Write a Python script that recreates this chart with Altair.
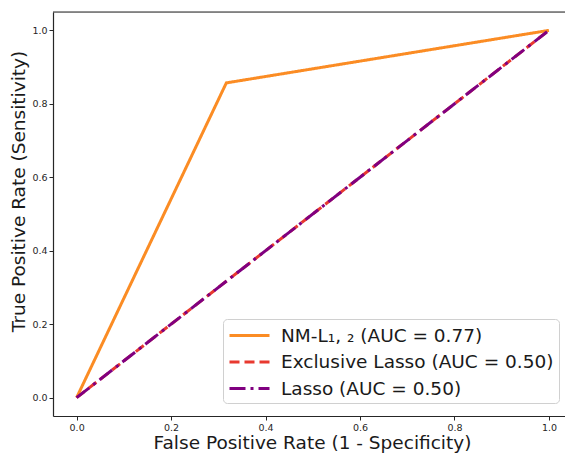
import altair as alt
import pandas as pd

# ROC curve points for each model
models = ["NM-L₁, ₂ (AUC = 0.77)", "Exclusive Lasso (AUC = 0.50)", "Lasso (AUC = 0.50)"]
fpr_nm = [0.0, 0.317, 1.0]
tpr_nm = [0.0, 0.857, 1.0]
fpr_excl = [0.0, 1.0]
tpr_excl = [0.0, 1.0]
fpr_lasso = [0.0, 1.0]
tpr_lasso = [0.0, 1.0]

colors = ["#fb8c24", "#e8392f", "#800080"]
dashes = [[1, 0], [10, 5], [16, 5, 3, 5]]

rows = []
for name, xs, ys in [(models[0], fpr_nm, tpr_nm),
                     (models[1], fpr_excl, tpr_excl),
                     (models[2], fpr_lasso, tpr_lasso)]:
    for i, (x, y) in enumerate(zip(xs, ys)):
        rows.append({"model": name, "fpr": x, "tpr": y, "step": i})
df = pd.DataFrame(rows)

x_dom = [-0.05, 1.034]
y_dom = [-0.05, 1.05]

axis_style = dict(
    grid=False,
    domainColor="#262626",
    domainWidth=1.2,
    tickColor="#262626",
    tickSize=4,
    tickWidth=1,
    labelFont="DejaVu Sans",
    labelFontSize=9.5,
    labelColor="#262626",
    titleFont="DejaVu Sans",
    titleFontSize=18.5,
    titleFontWeight="normal",
    titleColor="#1a1a1a",
    titleBaseline="alphabetic",
    format=".1f",
    values=[0.0, 0.2, 0.4, 0.6, 0.8, 1.0],
)

lines = alt.Chart(df).mark_line(strokeWidth=3, clip=True).encode(
    x=alt.X("fpr:Q", scale=alt.Scale(domain=x_dom, nice=False, zero=False),
            axis=alt.Axis(title="False Positive Rate (1 - Specificity)",
                          titleY=32.5, titleX=259, titleAlign="center", **axis_style)),
    y=alt.Y("tpr:Q", scale=alt.Scale(domain=y_dom, nice=False, zero=False),
            axis=alt.Axis(title="True Positive Rate (Sensitivity)",
                          titleX=-29, titleY=179, titleAngle=-90, titleAlign="center",
                          **axis_style)),
    color=alt.Color("model:N", sort=models,
                    scale=alt.Scale(domain=models, range=colors),
                    legend=alt.Legend(title=None, orient="none", legendX=170, legendY=307,
                                      symbolType="M-1,0L3,0", symbolSize=400, symbolStrokeWidth=3,
                                      labelFont="DejaVu Sans", labelFontSize=18.5,
                                      labelColor="#1a1a1a", labelOffset=30,
                                      rowPadding=5.5, padding=5,
                                      fillColor="white", strokeColor="#d0d0d0",
                                      cornerRadius=4, labelLimit=400)),
    strokeDash=alt.StrokeDash("model:N", sort=models,
                              scale=alt.Scale(domain=models, range=dashes),
                              legend=alt.Legend(title=None)),
    order="step:Q",
)

# top edge of the frame
top_edge = alt.Chart(pd.DataFrame({"y": [y_dom[1]]})).mark_rule(
    color="#262626", strokeWidth=1.2
).encode(y=alt.Y("y:Q"))

chart = alt.layer(lines, top_edge).properties(
    width=512, height=404,
    padding={"left": 53, "top": 12, "right": 0, "bottom": 38},
    autosize=alt.AutoSizeParams(type="none"),
).configure_view(stroke=None).configure(background="white")

chart.save("out.html", embed_options={"renderer": "svg", "actions": False})
